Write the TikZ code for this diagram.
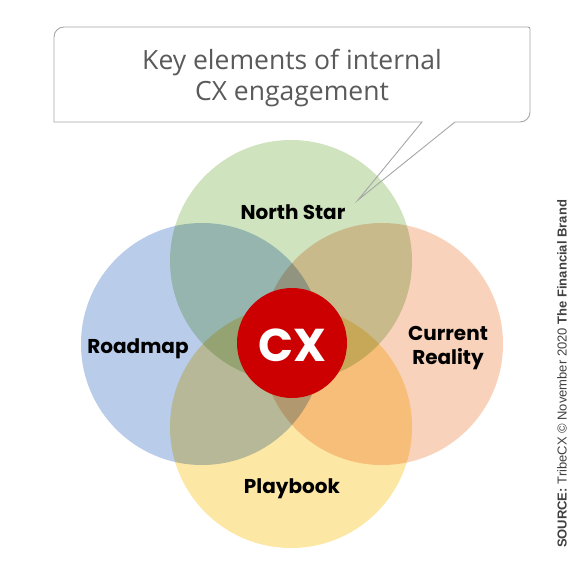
\documentclass[tikz,border=0pt]{standalone}
\usepackage{fontspec}
\setmainfont{Open Sans}
\newfontfamily\labelfont{Poppins}
\newfontfamily\srcfont{Liberation Sans}
\definecolor{nsgreen}{HTML}{CFE3BF}
\definecolor{rmblue}{HTML}{B9CCEA}
\definecolor{crpeach}{HTML}{F8D2BA}
\definecolor{pbyellow}{HTML}{FDE7A5}
\definecolor{cxred}{HTML}{CC0000}
\definecolor{titlegray}{HTML}{5A5A5A}
\definecolor{linegray}{HTML}{A6A6A6}
\definecolor{srcgray}{HTML}{404040}
\begin{document}
\begin{tikzpicture}[x=1pt,y=1pt,
  venn/.style={circle,inner sep=0pt,minimum size=242pt},
  lbl/.style={font=\labelfont\bfseries\fontsize{20}{23}\selectfont,text=black,align=center},
  callout/.style={draw=linegray,line width=0.9pt,line join=miter}]
\useasboundingbox (0,0) rectangle (585,-577);
% venn circles
\begin{scope}[blend group=multiply]
  \node[venn,fill=rmblue] (rm) at (202,-344) {};
  \node[venn,fill=crpeach] (cr) at (382,-344) {};
  \node[venn,fill=nsgreen] (ns) at (291,-261) {};
  \node[venn,fill=pbyellow] (pb) at (291,-427) {};
\end{scope}
% callout
\fill[white] (54,-37) arc (180:90:10) -- (528,-27) arc (90:0:2) -- (530,-112) arc (0:-90:10)
  -- (54,-122) -- cycle;
\draw[callout] (54,-37) arc (180:90:10) -- (528,-27) arc (90:0:2) -- (530,-112) arc (0:-90:10)
  -- (455,-122) -- (358,-200) coordinate (tip) -- (422,-122) -- (54,-122) -- cycle;
\node[font=\fontsize{26.5}{31}\selectfont,text=titlegray,align=center] (title) at (292,-78)
  {Key elements of internal\\CX engagement};
\node[circle,inner sep=0pt,minimum size=110pt,fill=cxred] (cx) at (292,-343) {};
\node[font=\labelfont\bfseries\fontsize{46}{50}\selectfont,text=white] (cxl) at (292,-345) {CX};
\node[lbl] (nsl) at (293,-212) {North Star};
\node[lbl] (rml) at (138,-349) {Roadmap};
\node[lbl,font=\labelfont\bfseries\fontsize{20}{24}\selectfont] (crl) at (448,-348) {Current\\Reality};
\node[lbl] (pbl) at (292,-489) {Playbook};
% source
\node[rotate=90,font=\srcfont\fontsize{13}{15}\selectfont,text=srcgray] (src) at (562,-374)
  {\textbf{SOURCE:} TribeCX \textcopyright{} November 2020 \textbf{The Financial Brand}};
\end{tikzpicture}
\end{document}
